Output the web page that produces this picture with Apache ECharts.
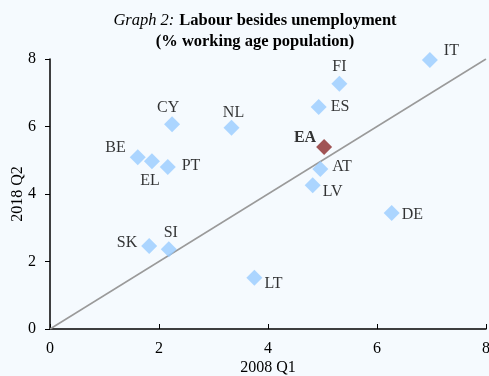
<!DOCTYPE html>
<html>
<head>
<meta charset="utf-8">
<script src="https://cdn.jsdelivr.net/npm/echarts@6/dist/echarts.min.js"></script>
<style>
  html, body { margin: 0; padding: 0; background: #F5FAFE; }
  #chart { width: 489px; height: 376px; }
</style>
</head>
<body>
<div id="chart"></div>
<script>
// Labour slack beyond unemployment, % of working age population
const countries = ['IT', 'FI', 'ES', 'AT', 'LV', 'DE', 'LT', 'SK', 'SI', 'CY', 'NL', 'BE', 'EL', 'PT'];
const q2008 = [6.97, 5.31, 4.93, 4.96, 4.82, 6.27, 3.75, 1.82, 2.18, 2.24, 3.33, 1.61, 1.87, 2.16];
const q2018 = [7.97, 7.27, 6.58, 4.74, 4.26, 3.44, 1.52, 2.46, 2.36, 6.07, 5.96, 5.09, 4.97, 4.80];
const euroArea = { name: 'EA', x: 5.03, y: 5.39 };
const diagonal = [[0, 0], [8, 8]];
const xTicks = [0, 2, 4, 6, 8];
const yTicks = [0, 2, 4, 6, 8];

// where each country's label sits relative to its marker
const labelPlace = {
  IT: { position: 'right', offset: [2, -9] },
  FI: { position: 'top', offset: [0, 3] },
  ES: { position: 'right', offset: [0, 0] },
  AT: { position: 'right', offset: [0, -2] },
  LV: { position: 'right', offset: [-2, 7] },
  DE: { position: 'right', offset: [-2, 2] },
  LT: { position: 'right', offset: [-2, 6] },
  SK: { position: 'left', offset: [0, -3] },
  SI: { position: 'top', offset: [2, 3] },
  CY: { position: 'top', offset: [-4, 4] },
  NL: { position: 'top', offset: [2, 5] },
  BE: { position: 'left', offset: [0, -9] },
  EL: { position: 'bottom', offset: [-2, 0] },
  PT: { position: 'right', offset: [2, -1] }
};

const serif = '"Liberation Serif", "Times New Roman", serif';

const pointData = countries.map((c, i) => ({
  value: [q2008[i], q2018[i]],
  name: c,
  label: labelPlace[c]
}));

const chart = echarts.init(document.getElementById('chart'), null, { renderer: 'canvas' });
chart.setOption({
  backgroundColor: '#F5FAFE',
  animation: false,
  title: {
    text: '{i|Graph 2:} {b|Labour besides unemployment}\n{b|(% working age population)}',
    left: 250,
    textAlign: 'center',
    top: 5,
    textStyle: {
      fontWeight: 'normal',
      rich: {
        i: { fontFamily: serif, fontStyle: 'italic', fontWeight: 'normal', fontSize: 16.5, color: '#000', lineHeight: 21 },
        b: { fontFamily: serif, fontWeight: 'bold', fontSize: 16.5, color: '#000', lineHeight: 21 }
      }
    }
  },
  grid: { left: 50, right: 3, top: 59, bottom: 47, containLabel: false, outerBoundsMode: 'none' },
  xAxis: {
    type: 'value', min: 0, max: 8, interval: 2,
    name: '2008 Q1', nameLocation: 'middle', nameGap: 31, nameMoveOverlap: false,
    nameTextStyle: { fontFamily: serif, fontSize: 16, color: '#000' },
    axisLine: { onZero: false, lineStyle: { color: '#000', width: 1.5 } },
    axisTick: { show: true, inside: true, length: 5, lineStyle: { color: '#000' } },
    axisLabel: { fontFamily: serif, fontSize: 16, color: '#000', margin: 12,
      formatter: v => xTicks.includes(v) ? String(v) : '' },
    splitLine: { show: false }
  },
  yAxis: {
    type: 'value', min: 0, max: 8, interval: 2,
    name: '2018 Q2', nameLocation: 'middle', nameGap: 24, nameRotate: 90, nameMoveOverlap: false,
    nameTextStyle: { fontFamily: serif, fontSize: 16, color: '#000' },
    axisLine: { onZero: false, lineStyle: { color: '#000', width: 1.5 } },
    axisTick: { show: true, inside: false, length: 5, lineStyle: { color: '#000' } },
    axisLabel: { fontFamily: serif, fontSize: 16, color: '#000', margin: 14,
      formatter: v => yTicks.includes(v) ? String(v) : '' },
    splitLine: { show: false }
  },
  series: [
    {
      type: 'line',
      data: diagonal,
      symbol: 'none',
      lineStyle: { color: '#9a9a9a', width: 1.5 },
      silent: true,
      z: 1
    },
    {
      type: 'scatter',
      data: pointData,
      symbol: 'diamond',
      symbolSize: 16,
      itemStyle: { color: '#99CCFF' },
      label: {
        show: true,
        formatter: p => p.name,
        fontFamily: serif, fontSize: 16, color: '#000', distance: 4
      },
      z: 3
    },
    {
      type: 'scatter',
      data: [{ value: [euroArea.x, euroArea.y], name: euroArea.name }],
      symbol: 'diamond',
      symbolSize: 16,
      itemStyle: { color: '#8B2B2B' },
      label: {
        show: true, position: 'left', offset: [4, -9],
        formatter: p => p.name,
        fontFamily: serif, fontSize: 16, fontWeight: 'bold', color: '#000', distance: 4
      },
      z: 4
    }
  ]
});
</script>
</body>
</html>
